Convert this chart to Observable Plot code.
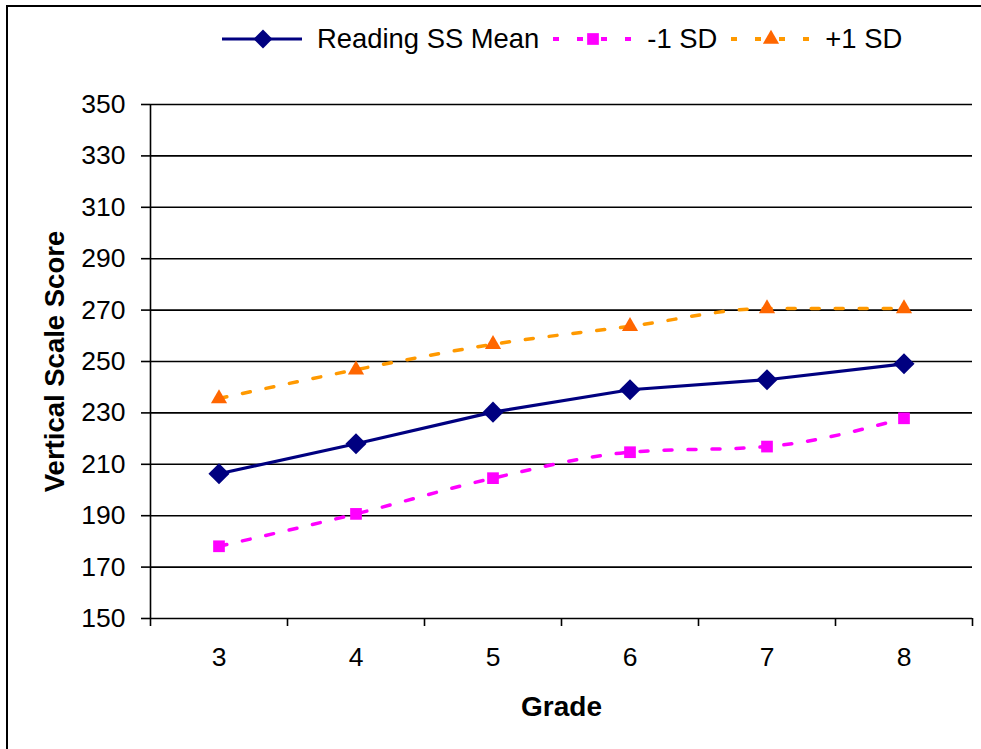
<!DOCTYPE html>
<html>
<head>
<meta charset="utf-8">
<script src="https://cdn.jsdelivr.net/npm/d3@7"></script>
<script src="https://cdn.jsdelivr.net/npm/@observablehq/plot@0.6"></script>
<style>
  html, body { margin: 0; padding: 0; background: #fff; overflow: hidden; }
  body { width: 981px; height: 749px; position: relative; font-family: "Liberation Sans", Arial, sans-serif; }
  #frame { position: absolute; left: 6px; top: 5px; width: 1000px; height: 800px; border: 2px solid #000; box-sizing: border-box; }
  #chart { position: absolute; left: 0; top: 0; }
  #legend { position: absolute; left: 222px; top: 22px; height: 34px; display: flex; align-items: center; font-size: 27.4px; color: #000; white-space: nowrap; }
  #legend .item { display: flex; align-items: center; margin-right: 13px; }
  #legend svg { display: block; margin-right: 15px; }
</style>
</head>
<body>
<div id="frame"></div>
<div id="chart"></div>
<div id="legend"></div>
<script>
// ---- data ----
const grades = [3, 4, 5, 6, 7, 8];
const readingMean = [206.3, 218.0, 230.3, 239.0, 242.9, 249.1];
const minus1SD = [178.1, 190.7, 204.6, 214.7, 216.9, 227.9];
const plus1SD = [235.6, 246.8, 256.7, 263.7, 270.6, 270.6];
const yTicks = [150, 170, 190, 210, 230, 250, 270, 290, 310, 330, 350];
const xCategoryBounds = [2.5, 3.5, 4.5, 5.5, 6.5, 7.5, 8.5];
const seriesNames = ["Reading SS Mean", "-1 SD", "+1 SD"];

const mean = grades.map((g, i) => ({grade: g, value: readingMean[i]}));
const lo = grades.map((g, i) => ({grade: g, value: minus1SD[i]}));
const hi = grades.map((g, i) => ({grade: g, value: plus1SD[i]}));

const NAVY = "#000080", MAGENTA = "#FF00FF", ORANGE_LINE = "#FF9900", ORANGE_MARK = "#FF6600";

const chart = Plot.plot({
  width: 981,
  height: 749,
  marginTop: 104,
  marginLeft: 150,
  marginRight: 9,
  marginBottom: 131,
  style: {fontFamily: "'Liberation Sans', Arial, sans-serif", fontSize: "26px", color: "#000", background: "transparent"},
  x: {domain: [2.5, 8.5]},
  y: {domain: [150, 350]},
  marks: [
    Plot.ruleY(yTicks, {stroke: "#000", strokeWidth: 1.6}),
    Plot.ruleX([2.5], {stroke: "#000", strokeWidth: 1.6}),
    Plot.axisY({ticks: yTicks, tickSize: 9, tickPadding: 16, tickFormat: d => String(d), label: null, fontSize: 26.5, strokeWidth: 1.6}),
    Plot.axisX({ticks: xCategoryBounds, tickSize: 8, tickFormat: () => "", label: null, strokeWidth: 1.6}),
    Plot.axisX({ticks: grades, tickSize: 0, tickPadding: 29, tickFormat: d => String(d), label: null, fontSize: 26.5}),
    Plot.text(["Vertical Scale Score"], {frameAnchor: "left", textAnchor: "middle", lineAnchor: "middle", rotate: -90, dx: -95, fontWeight: "bold", fontSize: 27.5}),
    Plot.text(["Grade"], {frameAnchor: "bottom", lineAnchor: "middle", dy: 89, fontWeight: "bold", fontSize: 28}),
    Plot.line(hi, {x: "grade", y: "value", stroke: ORANGE_LINE, strokeWidth: 3.5, strokeDasharray: "8,16", curve: "monotone-x"}),
    Plot.line(lo, {x: "grade", y: "value", stroke: MAGENTA, strokeWidth: 3.5, strokeDasharray: "8,16", curve: "monotone-x"}),
    Plot.line(mean, {x: "grade", y: "value", stroke: NAVY, strokeWidth: 3.2}),
    Plot.dot(hi, {x: "grade", y: "value", symbol: "triangle", r: 6, fill: ORANGE_MARK}),
    Plot.dot(lo, {x: "grade", y: "value", symbol: "square", r: 6.6, fill: MAGENTA}),
    Plot.dot(mean, {x: "grade", y: "value", symbol: "diamond2", r: 9.5, fill: NAVY})
  ]
});
document.getElementById("chart").appendChild(chart);

// ---- legend ----
const legendSpecs = [
  {name: seriesNames[0], stroke: NAVY, dash: null, sym: d3.symbolDiamond2, size: Math.PI * 8.5 * 8.5, fill: NAVY},
  {name: seriesNames[1], stroke: MAGENTA, dash: "6,18", sym: d3.symbolSquare, size: Math.PI * 6.6 * 6.6, fill: MAGENTA},
  {name: seriesNames[2], stroke: ORANGE_LINE, dash: "6,18", sym: d3.symbolTriangle, size: Math.PI * 6 * 6, fill: ORANGE_MARK}
];
const legend = d3.select("#legend");
legendSpecs.forEach(s => {
  const item = legend.append("div").attr("class", "item");
  const svg = item.append("svg").attr("width", 80).attr("height", 30);
  svg.append("line").attr("x1", 0).attr("x2", 80).attr("y1", 15).attr("y2", 15)
    .attr("stroke", s.stroke).attr("stroke-width", s.dash ? 4 : 3.2)
    .attr("stroke-dasharray", s.dash).attr("stroke-dashoffset", s.dash ? -1 : null);
  svg.append("path").attr("d", d3.symbol(s.sym, s.size)()).attr("transform", "translate(41,15)").attr("fill", s.fill);
  item.append("span").text(s.name);
});
</script>
</body>
</html>
